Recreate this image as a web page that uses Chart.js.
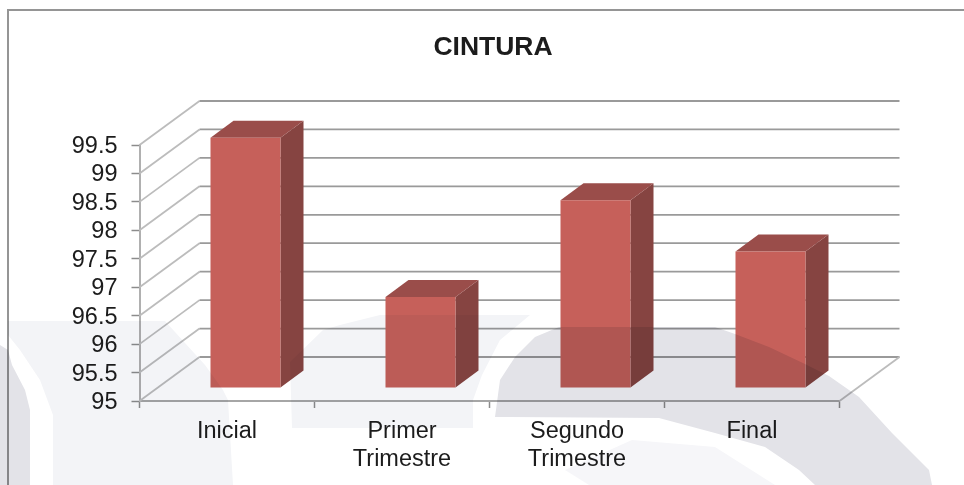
<!DOCTYPE html>
<html>
<head>
<meta charset="utf-8">
<title>CINTURA</title>
<script src="https://cdn.jsdelivr.net/npm/chart.js@4/dist/chart.umd.min.js"></script>
<style>
  html, body { margin: 0; padding: 0; background: #fff; }
  #wrap { position: relative; width: 964px; height: 485px; overflow: hidden; }
  #frame { position: absolute; left: 7px; top: 9px; right: -5px; bottom: -5px; border: 2px solid #959595; }
  #chart { position: absolute; left: 0; top: 0; filter: blur(0.55px); }
  /* marca de agua: oscurece lo que tiene debajo */
  #marca { position: absolute; left: 0; top: 0; mix-blend-mode: multiply; pointer-events: none; }
</style>
</head>
<body>
<div id="wrap">
  <div id="frame"></div>
  <canvas id="chart" width="964" height="485"></canvas>
  <svg id="marca" width="964" height="485" viewBox="0 0 964 485">
    <polygon fill="#f3f4f7" points="8,321 165,321 205,365 223,390 228,400 233,485 53,485 53,415 40,380 20,350 8,335"/>
    <polygon fill="#e3e3e8" points="0,345 8,350 12,365 25,390 30,410 30,485 0,485"/>
    <polygon fill="#f3f4f7" points="292,428 290,362 323,330 340,325 380,315 530,315 500,340 482,375 473,400 473,428"/>
    <polygon fill="#e3e3e8" points="495,417 500,380 515,357 535,337 559,327 715,327 735,334 769,347 805,364 829,376 859,397 892,433 929,470 932,485 815,485 799,470 765,447 715,433 659,418"/>
    <polygon fill="#f6f6f9" points="565,470 632,440 715,447 775,485 589,485"/>
  </svg>
</div>
<script>
const categories = ["Inicial", ["Primer", "Trimestre"], ["Segundo", "Trimestre"], "Final"];
const cintura = [99.4, 96.6, 98.3, 97.4];

const yMin = 95;
const yMax = 99.5;
const yStep = 0.5;

// profundidad de las paredes y de las barras
const wallDx = 60;
const wallDy = -44;
const barShiftX = 18.5;
const barShiftY = -13;
const barDepthX = 23;
const barDepthY = -17;

const gridColor = "#9a9a9a";
const depthColor = "#bcbcbc";

function face(ctx, pts, color) {
    ctx.fillStyle = color;
    ctx.beginPath();
    pts.forEach((p, i) => i ? ctx.lineTo(p[0], p[1]) : ctx.moveTo(p[0], p[1]));
    ctx.closePath();
    ctx.fill();
}

const fake3d = {
    id: "fake3d",
    afterLayout(chart) {
        // el titulo va un poco a la derecha del centro del lienzo
        chart.titleBlock.left = 22;
        chart.titleBlock.right = 964;
    },
    beforeDatasetsDraw(chart) {
        const { ctx, chartArea: a, scales: { y } } = chart;
        ctx.save();
        ctx.lineWidth = 1.8;
        y.ticks.forEach(t => {
            const py = y.getPixelForValue(t.value);
            ctx.strokeStyle = depthColor;
            ctx.beginPath();
            ctx.moveTo(a.left, py);
            ctx.lineTo(a.left + wallDx, py + wallDy);
            ctx.stroke();
            ctx.strokeStyle = gridColor;
            ctx.beginPath();
            ctx.moveTo(a.left + wallDx, py + wallDy);
            ctx.lineTo(a.right + wallDx, py + wallDy);
            ctx.stroke();
        });
        // borde derecho del suelo
        ctx.strokeStyle = depthColor;
        ctx.beginPath();
        ctx.moveTo(a.right, a.bottom);
        ctx.lineTo(a.right + wallDx, a.bottom + wallDy);
        ctx.stroke();
        ctx.restore();

        // las barras se dibujan desplazadas hacia el fondo
        ctx.save();
        ctx.translate(barShiftX, barShiftY);
        chart.getDatasetMeta(0).data.forEach(bar => {
            const l = bar.x - bar.width / 2;
            const r = bar.x + bar.width / 2;
            face(ctx, [[r, bar.y], [r + barDepthX, bar.y + barDepthY], [r + barDepthX, bar.base + barDepthY], [r, bar.base]], "#864441");
            face(ctx, [[l, bar.y], [l + barDepthX, bar.y + barDepthY], [r + barDepthX, bar.y + barDepthY], [r, bar.y]], "#9a4d4a");
        });
    },
    afterDatasetsDraw(chart) {
        chart.ctx.restore();
    }
};

new Chart(document.getElementById("chart"), {
    type: "bar",
    data: {
        labels: categories,
        datasets: [{
            label: "CINTURA",
            data: cintura,
            base: yMin,
            backgroundColor: "#c6605a",
            barPercentage: 0.4,
            categoryPercentage: 1,
            clip: false
        }]
    },
    options: {
        responsive: false,
        animation: false,
        layout: { padding: { top: 32, right: 124.5, bottom: 0, left: 0 } },
        plugins: {
            legend: { display: false },
            tooltip: { enabled: false },
            title: {
                display: true,
                text: "CINTURA",
                color: "#1c1c1c",
                font: { family: "Liberation Sans", size: 26.5, weight: "bold" },
                padding: { top: 0, bottom: 81.2 }
            }
        },
        scales: {
            x: {
                afterFit(s) { s.height = 84; },
                border: { color: "#a6a6a6", width: 2 },
                grid: { color: "#8c8c8c", offset: true, drawOnChartArea: false, tickLength: 7, tickWidth: 1.5 },
                ticks: {
                    color: "#1c1c1c",
                    padding: 9,
                    maxRotation: 0,
                    autoSkip: false,
                    font: { family: "Liberation Sans", size: 23.5, lineHeight: 1.2 }
                }
            },
            y: {
                min: yMin,
                max: yMax,
                afterFit(s) { s.width = 139.5; },
                border: { color: "#b0b0b0", width: 2 },
                grid: { color: "#8c8c8c", drawOnChartArea: false, tickLength: 8, tickWidth: 1.5 },
                ticks: {
                    stepSize: yStep,
                    autoSkip: false,
                    color: "#1c1c1c",
                    padding: 14,
                    labelOffset: 1.5,
                    font: { family: "Liberation Sans", size: 23.5 },
                    callback: v => String(v)
                }
            }
        }
    },
    plugins: [fake3d]
});
</script>
</body>
</html>
